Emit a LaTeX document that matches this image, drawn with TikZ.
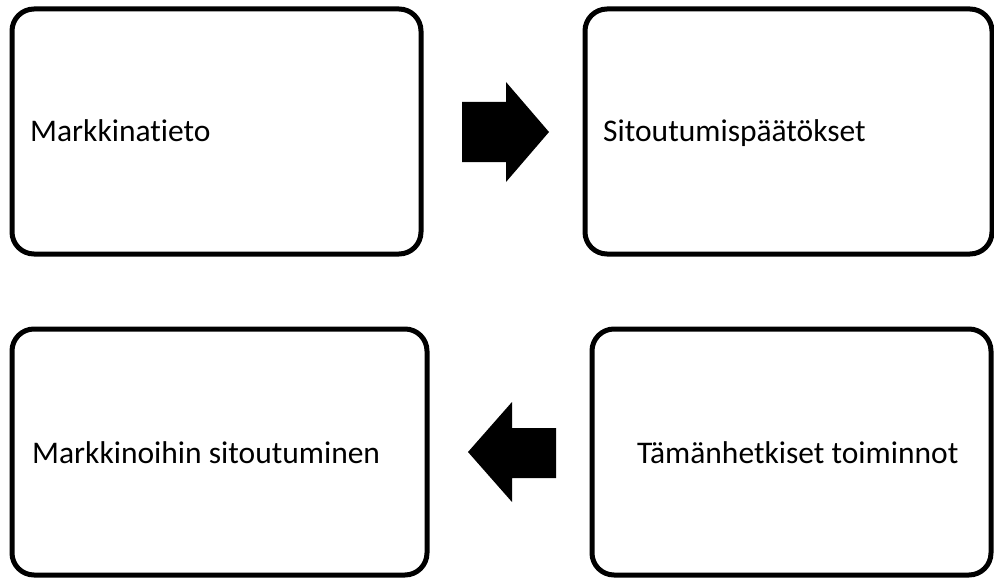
\documentclass[tikz,border=0pt]{standalone}
\usepackage{fontspec}
\setmainfont{Carlito}[Ligatures=NoCommon]
\usetikzlibrary{positioning}

\begin{document}
\begin{tikzpicture}[
  x=1pt, y=-1pt,
  box/.style = {draw, line width=5pt, rounded corners=22pt, inner sep=0pt},
  txt/.style = {anchor=base west, inner sep=0pt, font=\fontsize{31.5}{38}\selectfont},
  blockarrow/.style = {fill=black}
  ]
	\useasboundingbox (0,0) rectangle (994,578);

	\node[box, minimum width=409pt, minimum height=245pt] (tieto) at (216.5,131.5) {};
	\node[box, minimum width=407pt, minimum height=245pt] (paatos) at (788.5,131.5) {};
	\node[box, minimum width=415pt, minimum height=246pt] (sitoutuminen) at (219.5,452) {};
	\node[box, minimum width=399pt, minimum height=246pt] (toiminnot) at (791.5,452) {};

	\node[txt] (tieto-txt) at (30,141) {Markkinatieto};
	\node[txt] (paatos-txt) at (603,141) {Sitoutumispäätökset};
	\node[txt] (sitoutuminen-txt) at (32,463) {Markkinoihin sitoutuminen};
	\node[txt] (toiminnot-txt) at (637,463) {Tämänhetkiset toiminnot};

	% block arrows between the boxes
	\fill[blockarrow] (462,102) -- (506,102) -- (506,82) -- (549,132)
		-- (506,182) -- (506,162) -- (462,162) -- cycle;
	\fill[blockarrow] (556,428) -- (512,428) -- (512,402) -- (468,452)
		-- (512,502) -- (512,478) -- (556,478) -- cycle;

\end{tikzpicture}
\end{document}
